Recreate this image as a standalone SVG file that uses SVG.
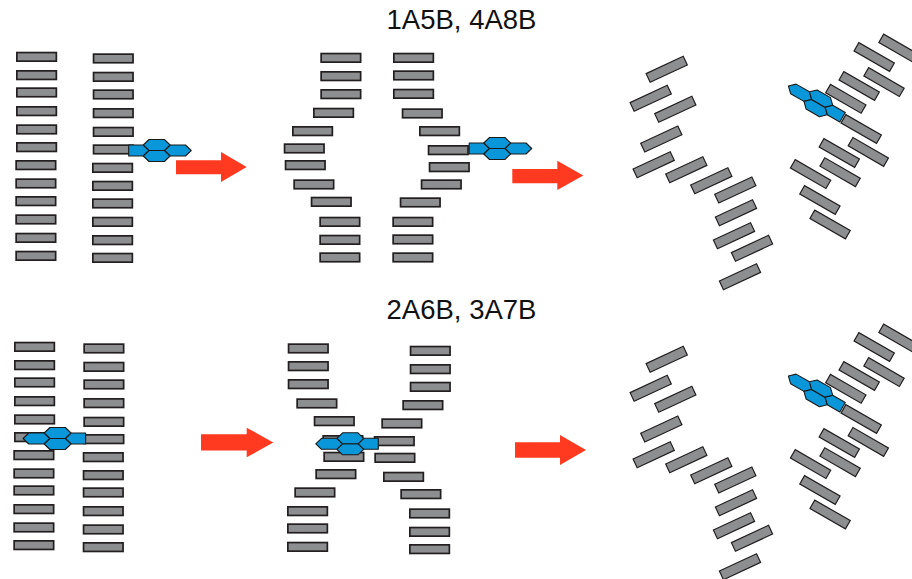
<svg xmlns="http://www.w3.org/2000/svg" xmlns:xlink="http://www.w3.org/1999/xlink" width="912" height="579" viewBox="0 0 912 579">
  <style>
    .bar { fill: #8c8e90; stroke: #231f20; stroke-width: 1.7; }
    .rbar { fill: #8c8e90; stroke: #231f20; stroke-width: 1.2; }
    .hex { fill: #0a97d9; stroke: #1a1a1a; stroke-width: 1.1; stroke-linejoin: round; }
    .arrow { fill: #ff3a20; }
    .title { font-family: "Liberation Sans", Arial, sans-serif; font-size: 27.5px; fill: #111; text-anchor: middle; }
  </style>
  <defs>
    <!-- a base pair drawn as a flat slab -->
    <rect id="bp" x="0.85" y="0.85" width="39.5" height="8.6" class="bar"/>
    <!-- the same slab, centred, for tilted strands -->
    <rect id="rbp" x="-20.5" y="-4.8" width="41" height="9.6" class="rbar"/>
    <!-- intercalating ring system: four fused rings, last one cut flat -->
    <g id="pah">
      <polygon class="hex" points="-28,-5.5 -13.4,-5.5 -7.7,0 -13.4,5.5 -28,5.5"/>
      <polygon class="hex" points="7.7,0 13.4,-5.5 28.8,-5.5 34.5,0 28.8,5.5 13.4,5.5"/>
      <polygon class="hex" points="-13.4,-5.5 -7.7,-11 7.7,-11 13.4,-5.5 7.7,0 -7.7,0"/>
      <polygon class="hex" points="-13.4,5.5 -7.7,0 7.7,0 13.4,5.5 7.7,11 -7.7,11"/>
    </g>
    <!-- splayed duplex used for the final state of both rows -->
    <g id="splayed">
      <g id="strand-left">
        <use xlink:href="#rbp" transform="translate(666.7,69.3) rotate(-25)"/>
        <use xlink:href="#rbp" transform="translate(650.7,98.3) rotate(-25)"/>
        <use xlink:href="#rbp" transform="translate(675.3,109.3) rotate(-25)"/>
        <use xlink:href="#rbp" transform="translate(661.3,139) rotate(-25)"/>
        <use xlink:href="#rbp" transform="translate(653.7,164.7) rotate(-25)"/>
        <use xlink:href="#rbp" transform="translate(686.3,169.7) rotate(-25)"/>
        <use xlink:href="#rbp" transform="translate(711.3,180.7) rotate(-25)"/>
        <use xlink:href="#rbp" transform="translate(735.3,190) rotate(-25)"/>
        <use xlink:href="#rbp" transform="translate(736,212.7) rotate(-25)"/>
        <use xlink:href="#rbp" transform="translate(734,235.7) rotate(-25)"/>
        <use xlink:href="#rbp" transform="translate(752,248.3) rotate(-25)"/>
        <use xlink:href="#rbp" transform="translate(740,276.7) rotate(-25)"/>
      </g>
      <g id="strand-right">
        <use xlink:href="#rbp" transform="translate(899,48.6) rotate(30)"/>
        <use xlink:href="#rbp" transform="translate(874.2,57) rotate(30)"/>
        <use xlink:href="#rbp" transform="translate(859.2,86) rotate(30)"/>
        <use xlink:href="#rbp" transform="translate(884,82.1) rotate(30)"/>
        <use xlink:href="#rbp" transform="translate(845.8,98.8) rotate(30)"/>
        <use xlink:href="#rbp" transform="translate(861.2,129) rotate(30)"/>
        <use xlink:href="#rbp" transform="translate(839.3,153) rotate(30)"/>
        <use xlink:href="#rbp" transform="translate(868.3,151.9) rotate(30)"/>
        <use xlink:href="#rbp" transform="translate(840.1,172.2) rotate(30)"/>
        <use xlink:href="#rbp" transform="translate(810.6,174.1) rotate(30)"/>
        <use xlink:href="#rbp" transform="translate(819.9,200) rotate(30)"/>
        <use xlink:href="#rbp" transform="translate(830.1,224.5) rotate(30)"/>
      </g>
      <use xlink:href="#pah" transform="translate(818.3,103.3) rotate(210)"/>
    </g>
  </defs>

  <!-- row titles -->
  <text class="title" x="461.5" y="29.3">1A5B, 4A8B</text>
  <text class="title" x="461.5" y="319.3">2A6B, 3A7B</text>

  <!-- top row, stage 1: intact duplex, ligand at the end -->
  <g id="top-duplex">
    <use xlink:href="#bp" x="16" y="51.7"/>
    <use xlink:href="#bp" x="16" y="70"/>
    <use xlink:href="#bp" x="16" y="87.3"/>
    <use xlink:href="#bp" x="16" y="106"/>
    <use xlink:href="#bp" x="16" y="124.3"/>
    <use xlink:href="#bp" x="16" y="142"/>
    <use xlink:href="#bp" x="15.3" y="160"/>
    <use xlink:href="#bp" x="15.3" y="178.3"/>
    <use xlink:href="#bp" x="15.3" y="196"/>
    <use xlink:href="#bp" x="15.3" y="214.3"/>
    <use xlink:href="#bp" x="15.3" y="232.7"/>
    <use xlink:href="#bp" x="15.3" y="250.7"/>
    <use xlink:href="#bp" x="92.7" y="53.3"/>
    <use xlink:href="#bp" x="92.7" y="71.7"/>
    <use xlink:href="#bp" x="92.7" y="89.3"/>
    <use xlink:href="#bp" x="92.7" y="108"/>
    <use xlink:href="#bp" x="92.7" y="126.7"/>
    <use xlink:href="#bp" x="92.7" y="144.3"/>
    <use xlink:href="#bp" x="92" y="162.7"/>
    <use xlink:href="#bp" x="92" y="180.7"/>
    <use xlink:href="#bp" x="92" y="198.3"/>
    <use xlink:href="#bp" x="92" y="216.7"/>
    <use xlink:href="#bp" x="92" y="235"/>
    <use xlink:href="#bp" x="92" y="252.7"/>
    <use xlink:href="#pah" transform="translate(156.7,150.5)"/>
  </g>

  <!-- top row, stage 2: bulged duplex -->
  <g id="top-bulged">
    <use xlink:href="#bp" x="320.3" y="52.7"/>
    <use xlink:href="#bp" x="320.3" y="71"/>
    <use xlink:href="#bp" x="320.3" y="89"/>
    <use xlink:href="#bp" x="313" y="107.7"/>
    <use xlink:href="#bp" x="292" y="126"/>
    <use xlink:href="#bp" x="283.7" y="143.3"/>
    <use xlink:href="#bp" x="284.7" y="160"/>
    <use xlink:href="#bp" x="293.3" y="179.3"/>
    <use xlink:href="#bp" x="310.7" y="196.7"/>
    <use xlink:href="#bp" x="319.3" y="216.7"/>
    <use xlink:href="#bp" x="319.3" y="234.7"/>
    <use xlink:href="#bp" x="319.3" y="252.3"/>
    <use xlink:href="#bp" x="393" y="52.7"/>
    <use xlink:href="#bp" x="393" y="70.3"/>
    <use xlink:href="#bp" x="393" y="88.7"/>
    <use xlink:href="#bp" x="401.7" y="108.3"/>
    <use xlink:href="#bp" x="419" y="126"/>
    <use xlink:href="#bp" x="427.7" y="145"/>
    <use xlink:href="#bp" x="428.7" y="162"/>
    <use xlink:href="#bp" x="420.7" y="179.3"/>
    <use xlink:href="#bp" x="399.7" y="197.3"/>
    <use xlink:href="#bp" x="392.3" y="216.7"/>
    <use xlink:href="#bp" x="392.3" y="234.3"/>
    <use xlink:href="#bp" x="392.3" y="252.3"/>
    <use xlink:href="#pah" transform="translate(497.2,148.5)"/>
  </g>

  <!-- top row, stage 3 -->
  <g id="top-splayed">
    <use xlink:href="#splayed"/>
  </g>

  <!-- bottom row, stage 1: ligand inserted mid-duplex -->
  <g id="bottom-duplex">
    <use xlink:href="#bp" x="14" y="341.7"/>
    <use xlink:href="#bp" x="14" y="360"/>
    <use xlink:href="#bp" x="14" y="377.3"/>
    <use xlink:href="#bp" x="14" y="396"/>
    <use xlink:href="#bp" x="14" y="414.3"/>
    <use xlink:href="#bp" x="14" y="432"/>
    <use xlink:href="#bp" x="13.3" y="450"/>
    <use xlink:href="#bp" x="13.3" y="468.3"/>
    <use xlink:href="#bp" x="13.3" y="485.3"/>
    <use xlink:href="#bp" x="13.3" y="504"/>
    <use xlink:href="#bp" x="13.3" y="522.3"/>
    <use xlink:href="#bp" x="13.3" y="540"/>
    <use xlink:href="#bp" x="83.3" y="343.3"/>
    <use xlink:href="#bp" x="83.3" y="361.7"/>
    <use xlink:href="#bp" x="83.3" y="379.3"/>
    <use xlink:href="#bp" x="83.3" y="398"/>
    <use xlink:href="#bp" x="83.3" y="416.7"/>
    <use xlink:href="#bp" x="83.3" y="434"/>
    <use xlink:href="#bp" x="82.7" y="452"/>
    <use xlink:href="#bp" x="82.7" y="470"/>
    <use xlink:href="#bp" x="82.7" y="487.3"/>
    <use xlink:href="#bp" x="82.7" y="506"/>
    <use xlink:href="#bp" x="82.7" y="524.3"/>
    <use xlink:href="#bp" x="82.7" y="542"/>
    <use xlink:href="#pah" transform="translate(57.6,438.5) rotate(180)"/>
  </g>

  <!-- bottom row, stage 2: crossed strands -->
  <g id="bottom-crossed">
    <use xlink:href="#bp" x="287.7" y="343.3"/>
    <use xlink:href="#bp" x="287.7" y="361"/>
    <use xlink:href="#bp" x="287.7" y="379"/>
    <use xlink:href="#bp" x="296.3" y="398.3"/>
    <use xlink:href="#bp" x="313.7" y="416"/>
    <use xlink:href="#bp" x="322.3" y="435"/>
    <use xlink:href="#bp" x="323.3" y="451.7"/>
    <use xlink:href="#bp" x="315.3" y="469"/>
    <use xlink:href="#bp" x="294.3" y="487.3"/>
    <use xlink:href="#bp" x="287" y="506"/>
    <use xlink:href="#bp" x="287" y="523.3"/>
    <use xlink:href="#bp" x="287" y="541.7"/>
    <use xlink:href="#bp" x="409.7" y="345.7"/>
    <use xlink:href="#bp" x="409.7" y="364"/>
    <use xlink:href="#bp" x="409.7" y="381.7"/>
    <use xlink:href="#bp" x="402.3" y="400"/>
    <use xlink:href="#bp" x="381.3" y="418.3"/>
    <use xlink:href="#bp" x="373.7" y="436"/>
    <use xlink:href="#bp" x="374.3" y="452.7"/>
    <use xlink:href="#bp" x="383" y="471.7"/>
    <use xlink:href="#bp" x="400.3" y="489"/>
    <use xlink:href="#bp" x="409" y="508.3"/>
    <use xlink:href="#bp" x="409" y="526.7"/>
    <use xlink:href="#bp" x="409" y="544"/>
    <use xlink:href="#pah" transform="translate(350.3,443.8) rotate(180)"/>
  </g>

  <!-- bottom row, stage 3 -->
  <g id="bottom-splayed">
    <use xlink:href="#splayed" transform="translate(0,290)"/>
  </g>

  <!-- process arrows -->
  <g id="connectors">
    <polygon class="arrow" points="176,160.3 221,160.3 221,152 246.7,167 221,182 221,174.3 176,174.3"/>
    <polygon class="arrow" points="512.3,169 557.3,169 557.3,160.7 583.3,175.5 557.3,190 557.3,183.3 512.3,183.3"/>
    <polygon class="arrow" points="201,434.3 246.7,434.3 246.7,427.7 273.3,442.5 246.7,457.3 246.7,450.5 201,450.5"/>
    <polygon class="arrow" points="515,442.3 560,442.3 560,435 586,450 560,465 560,457.7 515,457.7"/>
  </g>
</svg>
